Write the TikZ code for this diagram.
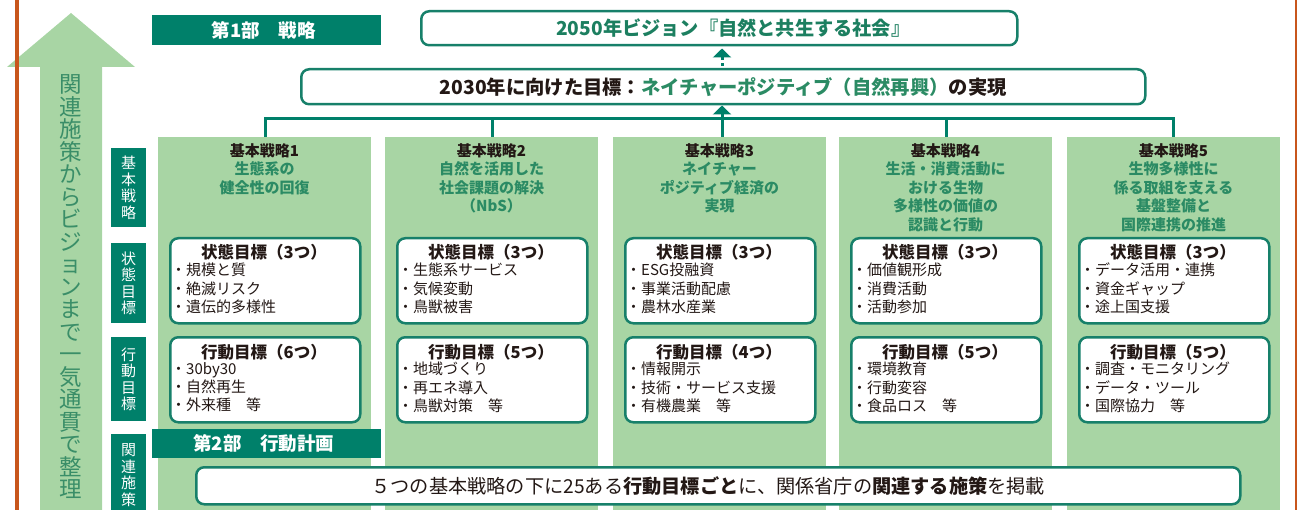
\documentclass[tikz,border=0pt]{standalone}
\usepackage{fontspec}
\setmainfont{Noto Sans CJK JP}
\usetikzlibrary{arrows.meta}
\definecolor{dkgreen}{HTML}{00806A}
\definecolor{bordergreen}{HTML}{17806A}
\definecolor{ltgreen}{HTML}{A8D5A4}
\definecolor{txtgreen}{HTML}{2B8B64}
\definecolor{visiongreen}{HTML}{1C7F60}
\definecolor{arrowtxt}{HTML}{3A8E68}
\definecolor{ink}{HTML}{231815}
\definecolor{orangeline}{HTML}{C8561C}
\tikzset{
  banner/.style={fill=dkgreen, text=white, font=\fontsize{18.5}{20}\selectfont\bfseries, minimum width=229pt, inner sep=0pt, anchor=north west},
  rbox/.style={draw=bordergreen, line width=2.5pt, rounded corners=8pt, fill=white, inner sep=0pt, anchor=north west},
  column/.style={fill=ltgreen, minimum width=213pt, minimum height=373pt, anchor=north west, inner sep=0pt},
  sidelabel/.style={fill=dkgreen, text=white, font=\fontsize{15}{16.5}\selectfont, align=center, minimum width=35pt, inner sep=0pt, anchor=north west},
  head/.style={font=\fontsize{15}{18.5}\selectfont\bfseries, text=txtgreen, align=center, anchor=north, inner sep=0pt},
  boxtitle/.style={font=\fontsize{16.5}{18}\selectfont\bfseries, text=ink, inner sep=0pt},
  items/.style={font=\fontsize{15}{18.3}\selectfont, text=ink, align=left, anchor=north west, inner sep=0pt},
  link/.style={draw=dkgreen, line width=3pt},
  arrowtip/.style={-{Triangle[width=18pt,length=9pt]}}
}
\newcommand\stratcol[7]{%
  \node[column] (col#1) at (#2,137) {};
  \node[head] (h#1) at ({#2+106.5},143) {#4};
  \node[rbox, minimum width=190pt, minimum height=85pt] (s#1) at ({#2+11},237) {};
  \node[boxtitle] (st#1) at ({#2+106},252) {状態目標（3つ）};
  \node[items] (si#1) at ({#2+13},263) {#5};
  \node[rbox, minimum width=190pt, minimum height=85pt] (a#1) at ({#2+11},336) {};
  \node[boxtitle] (at#1) at ({#2+106},352) {#6};
  \node[items] (ai#1) at ({#2+13},362) {#7};
}
\begin{document}
\begin{tikzpicture}[x=1pt,y=-1pt]
\useasboundingbox (0,0) rectangle (1297,510);
% big arrow
\fill[ltgreen] (40,510) -- (40,67) -- (7,67) -- (71,13) -- (135,67) -- (102,67) -- (102,510) -- cycle;
\node[font=\fontsize{22.5}{22.5}\selectfont, text=arrowtxt, align=center, inner sep=0pt] (bigtext) at (71,287)
 {関\\連\\施\\策\\か\\ら\\ビ\\ジ\\ョ\\ン\\ま\\で\\一\\気\\通\\貫\\で\\整\\理};
\draw[orangeline, line width=3.2pt] (17,0) -- (17,510);
\draw[orangeline, line width=3pt] (1296,0) -- (1296,510);
% columns
\stratcol{1}{158}{265}{\textcolor{ink}{基本戦略1}\\生態系の\\健全性の回復}
 {・規模と質\\・絶滅リスク\\・遺伝的多様性}{行動目標（6つ）}{・30by30\\・自然再生\\・外来種　等}
\stratcol{2}{385}{492}{\textcolor{ink}{基本戦略2}\\自然を活用した\\社会課題の解決\\（NbS）}
 {・生態系サービス\\・気候変動\\・鳥獣被害}{行動目標（5つ）}{・地域づくり\\・再エネ導入\\・鳥獣対策　等}
\stratcol{3}{613}{722}{\textcolor{ink}{基本戦略3}\\ネイチャー\\ポジティブ経済の\\実現}
 {・ESG投融資\\・事業活動配慮\\・農林水産業}{行動目標（4つ）}{・情報開示\\・技術・サービス支援\\・有機農業　等}
\stratcol{4}{839}{946}{\textcolor{ink}{基本戦略4}\\生活・消費活動に\\おける生物\\多様性の価値の\\認識と行動}
 {・価値観形成\\・消費活動\\・活動参加}{行動目標（5つ）}{・環境教育\\・行動変容\\・食品ロス　等}
\stratcol{5}{1067}{1173}{\textcolor{ink}{基本戦略5}\\生物多様性に\\係る取組を支える\\基盤整備と\\国際連携の推進}
 {・データ活用・連携\\・資金ギャップ\\・途上国支援}{行動目標（5つ）}{・調査・モニタリング\\・データ・ツール\\・国際協力　等}
% side labels
\node[sidelabel, minimum height=79pt] (lab1) at (111,148) {基\\本\\戦\\略};
\node[sidelabel, minimum height=80pt] (lab2) at (111,243) {状\\態\\目\\標};
\node[sidelabel, minimum height=84pt] (lab3) at (111,337) {行\\動\\目\\標};
\node[sidelabel, minimum height=82pt] (lab4) at (111,434) {関\\連\\施\\策};
% banners
\node[banner, minimum height=30pt] (part1) at (152,15) {\hspace*{-6pt}第1部　戦略};
\node[banner, minimum height=29pt] (part2) at (152,429) {\hspace*{-6pt}第2部　行動計画};
% top boxes
\node[rbox, minimum width=596pt, minimum height=34pt, font=\fontsize{19.2}{20}\selectfont\bfseries, text=visiongreen] (vision) at (420,10) {\hspace*{28pt}2050年ビジョン『自然と共生する社会』};
\node[rbox, minimum width=844pt, minimum height=35pt, font=\fontsize{19.3}{20}\selectfont\bfseries, text=ink] (goal) at (300,68) {2030年に向けた目標：\textcolor{txtgreen}{ネイチャーポジティブ（自然再興）}の実現};
% bus
\coordinate (bus1) at (265,119);
\coordinate (bus2) at (492,119);
\coordinate (bus3) at (722,119);
\coordinate (bus4) at (946,119);
\coordinate (bus5) at (1173,119);
\coordinate (dotmid) at (722,56);
\draw[link] (bus1 |- col1.north) -- (bus1) -- (bus5) -- (bus5 |- col5.north);
\draw[link] (bus2) -- (bus2 |- col2.north);
\draw[link] (bus3) -- (bus3 |- col3.north);
\draw[link] (bus4) -- (bus4 |- col4.north);
\draw[link, arrowtip] (bus3) -- (bus3 |- goal.south);
\draw[link, dash pattern=on 3pt off 3pt, dash phase=4pt] (dotmid |- goal.north) -- (dotmid);
\draw[link, arrowtip, shorten >=2pt] (dotmid) -- (dotmid |- vision.south);
% bottom box
\node[rbox, minimum width=1044pt, minimum height=37pt, font=\fontsize{19.2}{20}\selectfont, text=ink] (policy) at (195,466) {５つの基本戦略の下に25ある\textbf{行動目標ごと}に、関係省庁の\textbf{関連する施策}を掲載\hspace*{20pt}};
\end{tikzpicture}
\end{document}
